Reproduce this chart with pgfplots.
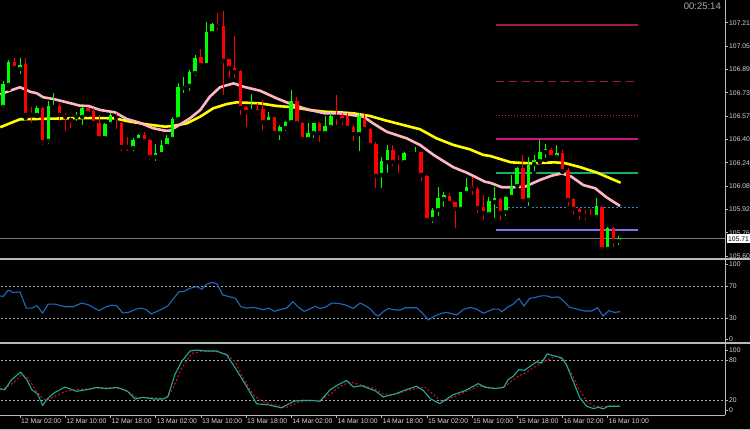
\documentclass[border=0pt]{standalone}
\usepackage{fontspec}
\setmainfont{Liberation Sans}
\usepackage{pgfplots}
\usepackage{pgfplotstable}
\pgfplotsset{compat=1.18}

\definecolor{bull}{RGB}{0,255,0}
\definecolor{bear}{RGB}{255,0,0}
\definecolor{maslow}{RGB}{255,255,0}
\definecolor{mafast}{RGB}{255,182,193}
\definecolor{rsiblue}{RGB}{30,105,190}
\definecolor{stochk}{RGB}{32,170,160}
\definecolor{stochd}{RGB}{200,20,20}
\definecolor{frame}{RGB}{185,185,185}
\definecolor{lbl}{RGB}{215,215,215}
\definecolor{lvl}{RGB}{170,170,170}
\definecolor{bid}{RGB}{120,120,120}
\definecolor{fibA}{RGB}{160,25,65}
\definecolor{fibB}{RGB}{200,40,50}
\definecolor{fibC}{RGB}{205,20,130}
\definecolor{fibD}{RGB}{20,175,100}
\definecolor{fibE}{RGB}{60,125,215}
\definecolor{fibF}{RGB}{130,110,240}

% candles: hour index i (0 = 12 Mar 02:00), open high low close
\pgfplotstableread{
i o h l c
-3 106.629 106.808 106.622 106.787
-2 106.781 106.953 106.753 106.939
0 106.891 106.967 106.843 106.918
3 106.574 106.636 106.567 106.622
5 106.394 106.670 106.360 106.636
6 106.629 106.725 106.608 106.636
10 106.560 106.594 106.518 106.574
11 106.560 106.629 106.491 106.622
15 106.415 106.518 106.412 106.511
16 106.511 106.587 106.498 106.574
20 106.346 106.415 106.311 106.401
21 106.401 106.442 106.394 106.436
24 106.284 106.373 106.242 106.311
25 106.304 106.401 106.298 106.367
26 106.360 106.436 106.353 106.415
27 106.408 106.560 106.401 106.546
28 106.546 106.794 106.539 106.767
29 106.760 106.836 106.712 106.774
30 106.774 106.884 106.725 106.870
31 106.863 106.988 106.829 106.967
33 106.918 107.215 106.912 107.146
34 107.139 107.208 107.135 107.201
41 106.601 106.718 106.574 106.615
44 106.525 106.594 106.518 106.560
46 106.449 106.505 106.387 106.491
47 106.484 106.532 106.449 106.525
48 106.525 106.746 106.518 106.670
51 106.408 106.518 106.380 106.449
52 106.449 106.521 106.401 106.518
54 106.449 106.567 106.446 106.498
55 106.491 106.587 106.470 106.567
60 106.442 106.587 106.311 106.567
64 106.160 106.284 106.056 106.256
65 106.249 106.367 106.160 106.332
68 106.249 106.318 106.242 106.311
70 106.304 106.353 106.298 106.318
73 105.856 105.932 105.815 105.918
74 105.918 106.077 105.863 106.001
75 105.994 106.042 105.925 106.022
78 105.925 106.045 105.918 106.042
79 106.035 106.139 106.032 106.077
83 105.890 106.008 105.863 105.980
84 105.973 106.077 105.849 106.001
86 105.904 106.015 105.863 106.008
87 106.008 106.160 106.001 106.084
88 106.084 106.215 106.056 106.208
90 105.987 106.284 105.932 106.229
91 106.235 106.298 106.173 106.263
92 106.256 106.401 106.249 106.318
93 106.318 106.373 106.263 106.339
95 106.284 106.367 106.270 106.311
102 105.870 106.001 105.863 105.946
104 105.649 105.801 105.642 105.794
106 105.704 105.739 105.663 105.725
}\bulltab

\pgfplotstableread{
i o h l c
-1 106.939 106.967 106.870 106.898
1 106.925 106.967 106.553 106.574
2 106.580 106.629 106.505 106.574
4 106.622 106.629 106.353 106.387
7 106.636 106.656 106.518 106.574
8 106.574 106.587 106.449 106.560
9 106.553 106.560 106.470 106.539
12 106.622 106.629 106.574 106.587
13 106.601 106.622 106.484 106.518
14 106.518 106.574 106.412 106.415
17 106.567 106.587 106.463 106.553
18 106.518 106.525 106.311 106.353
19 106.360 106.422 106.311 106.353
22 106.436 106.456 106.387 106.394
23 106.401 106.405 106.249 106.284
32 106.974 107.029 106.884 106.918
35 107.201 107.277 107.146 107.188
36 107.188 107.291 106.698 106.946
37 106.960 106.963 106.815 106.898
38 106.898 107.119 106.815 106.870
39 106.877 106.884 106.560 106.622
40 106.629 106.636 106.477 106.594
42 106.615 106.656 106.560 106.594
43 106.615 106.677 106.456 106.525
45 106.560 106.563 106.446 106.449
49 106.670 106.698 106.491 106.518
50 106.518 106.525 106.401 106.408
53 106.518 106.525 106.373 106.449
56 106.574 106.712 106.491 106.560
57 106.567 106.587 106.491 106.539
58 106.567 106.587 106.481 106.484
59 106.491 106.505 106.380 106.442
61 106.546 106.587 106.470 106.477
62 106.477 106.484 106.346 106.367
63 106.373 106.387 106.056 106.153
66 106.332 106.367 106.208 106.249
67 106.263 106.298 106.160 106.249
69 106.325 106.328 106.284 106.311
71 106.318 106.321 106.104 106.160
72 106.153 106.160 105.846 105.849
76 106.015 106.035 105.959 105.966
77 105.973 105.976 105.780 105.925
80 106.077 106.146 106.008 106.063
81 106.063 106.077 105.884 105.932
82 105.939 106.022 105.835 105.897
85 105.994 106.001 105.835 105.897
89 106.208 106.298 105.973 105.980
94 106.332 106.346 106.277 106.284
96 106.311 106.332 106.180 106.187
97 106.194 106.208 105.932 105.987
98 105.994 106.001 105.870 105.925
99 105.925 105.932 105.835 105.890
100 105.890 105.918 105.835 105.877
101 105.884 105.925 105.863 105.870
103 105.939 105.946 105.628 105.649
105 105.794 105.801 105.649 105.704
}\beartab

\pgfplotstableread{
i v
-3.5 106.489
-1.8 106.516
0 106.544
5.3 106.548
11.2 106.553
16.8 106.551
18.9 106.532
22.4 106.509
25.7 106.493
27.1 106.498
29.5 106.516
31.9 106.562
34.2 106.620
36.6 106.649
38.3 106.661
42.5 106.654
45.4 106.636
48.4 106.627
51.3 106.608
54 106.596
56.6 106.592
59 106.585
61.9 106.567
64.9 106.534
67.8 106.505
70.8 106.475
73.7 106.413
76.7 106.367
79.6 106.337
82 106.298
83.2 106.291
86.9 106.247
90.4 106.240
94.6 106.247
96.4 106.242
99.2 106.213
102.2 106.175
106.3 106.106
}\maslowtab

\pgfplotstableread{
i v
-3.5 106.716
-1.8 106.741
0 106.765
1.8 106.734
3 106.723
4.1 106.696
5.9 106.684
8.3 106.661
10.6 106.638
12.1 106.636
14.2 106.608
16.8 106.592
18.9 106.546
21.2 106.520
23.6 106.482
25.7 106.465
26.5 106.465
27.7 106.493
30.1 106.551
31.9 106.608
33.6 106.700
35.4 106.765
37.8 106.792
39.5 106.769
42.5 106.741
45.4 106.689
48.4 106.642
51.3 106.608
54 106.585
56.6 106.585
60.8 106.562
62.5 106.516
64.9 106.458
68.4 106.413
70.8 106.367
73.2 106.298
76.7 106.213
79.1 106.175
82.3 106.113
83.2 106.106
85.3 106.075
87.3 106.075
89.4 106.079
92 106.125
94.1 106.155
95.9 106.171
97.6 106.148
99.7 106.090
101.8 106.068
103.8 106.006
106.2 105.946
}\mafasttab

\pgfplotstableread{
i v
-3.5 57.7
-3.0 56.9
-2.1 64.7
-1.2 61.8
0 62.6
1.1 42.6
2.1 42.6
3.0 45.5
4.0 36.5
5.0 47.5
6.2 47.5
8.0 44.3
9.4 44.3
10.9 48.8
12.1 46.7
14.0 39.4
15.3 44.3
16.2 46.3
17.1 45.5
18.2 36.5
19.2 37.3
20.6 41.4
21.5 42.6
22.4 40.6
23.2 35.3
24.8 40.2
26.2 45.5
27.1 53.7
28.1 62.6
29.1 63.5
30.1 67.1
31.3 69.2
32.2 65.9
33.0 72.0
33.9 74.1
34.8 73.2
35.9 59.0
36.9 56.9
38.1 54.9
39.1 44.3
40.1 42.6
41.3 43.5
42.2 42.2
43.1 40.6
44.0 42.6
45.0 38.6
46.0 40.6
47.2 42.6
48.3 50.4
49.3 43.5
50.3 38.6
51.3 41.4
52.2 44.7
53.1 42.2
54.0 43.5
55.2 48.8
56.3 48.4
57.5 46.7
59.0 42.2
60.2 48.8
61.4 44.7
62.2 40.2
62.8 35.0
63.4 32.8
64.3 38.1
65.2 42.2
66.4 40.2
67.3 40.2
68.1 43.0
70.2 43.0
71.1 37.3
72.3 27.9
73.4 32.8
74.6 36.1
75.5 37.3
77.3 34.1
78.5 41.0
79.7 43.4
80.8 41.4
82.0 36.1
83.8 41.4
84.7 41.4
85.3 38.1
86.4 44.3
87.3 47.5
88.3 54.5
89.2 45.1
90.2 54.5
91.1 55.7
92.3 57.7
93.2 57.7
94.1 55.7
95.3 56.5
96.2 51.6
97.3 43.4
98.2 42.2
99.1 40.2
100.0 39.0
101.2 39.0
102.2 43.0
103.2 32.8
104.2 39.4
105.2 37.3
106.2 38.1
}\rsitab

\pgfplotstableread{
i v
-3.5 37.2
-2.7 35.7
-1.5 50.5
0.1 61.8
1.2 50.5
2.1 35.7
3.1 29.3
4.0 12.6
5.0 23.4
6.2 31.8
8.0 39.7
10.0 33.3
11.8 35.7
13.6 39.2
15.3 37.2
17.1 39.2
18.9 34.2
20.4 21.9
21.8 24.4
23.6 21.9
25.4 21.9
26.2 25.9
27.4 57.9
28.6 77.5
30.1 93.3
31.3 94.7
33.0 93.3
34.8 93.3
36.6 87.4
38.3 65.2
40.1 40.6
41.9 14.6
43.7 13.6
46.3 8.7
48.4 18.5
50.2 20.0
51.9 19.5
53.1 18.5
54.9 35.7
56.3 43.1
57.8 49.5
59.0 39.7
60.5 41.6
62.0 36.7
62.8 34.5
64.3 25.0
66.4 29.4
68.4 35.9
70.2 40.8
71.4 34.4
72.6 22.5
74.3 15.0
76.7 28.4
78.8 34.4
81.1 44.8
82.3 39.3
84.1 37.4
85.6 39.3
86.4 50.7
87.3 55.7
88.3 65.6
89.3 64.6
90.3 70.6
91.4 77.0
92.3 75.5
93.3 88.9
94.4 86.4
95.9 83.0
96.7 73.1
97.9 48.3
99.1 23.5
100.3 11.1
101.5 7.6
102.4 9.6
103.2 7.1
104.1 11.1
105.0 11.1
106.2 11.1
}\stochktab

\pgfplotstableread{
i v
-3.5 35.7
-2.4 39.2
-1.2 45.6
0.3 57.9
1.5 52.9
2.7 35.7
3.8 24.4
4.7 20.0
6.2 25.9
8.0 33.3
10.0 35.7
12.4 37.2
14.2 38.2
15.9 38.2
17.7 37.2
19.2 32.3
20.6 24.4
22.4 24.4
24.2 23.4
25.9 22.4
27.1 38.2
28.6 67.7
30.4 89.8
31.9 92.3
34.8 92.3
36.6 88.3
38.1 77.5
39.5 52.9
41.3 28.3
42.8 18.5
44.8 13.6
47.2 9.6
49.0 16.0
51.0 19.5
53.1 20.0
55.2 30.8
56.6 40.6
58.4 47.0
60.2 43.1
62.0 39.2
62.8 36.5
64.3 29.4
66.4 28.4
68.4 34.4
70.2 37.4
71.7 39.3
73.2 28.4
74.6 18.5
76.7 24.5
78.8 32.4
81.1 40.8
82.3 40.8
84.1 37.4
85.6 39.3
87.0 48.3
88.2 55.7
89.7 62.1
91.1 69.6
92.3 75.5
93.5 80.5
94.9 85.4
96.1 80.5
97.6 60.7
98.8 38.3
100.3 18.5
101.7 11.1
103.4 10.1
105.1 11.1
106.2 11.1
}\stochdtab

\pgfplotsset{
  mt/.style={
    scale only axis, width=725pt, anchor=north west,
    xmin=-3.54, xmax=124.78,
    axis line style={draw=none},
    xtick=\empty,
    ytick pos=right, yticklabel pos=right,
    tick align=outside, major tick length=3pt,
    tick style={frame, line width=0.6pt},
    ticklabel style={font=\fontsize{6.8}{7.5}\selectfont, text=lbl},
    yticklabel style={anchor=west, inner sep=0pt, xshift=1pt},
    clip=true,
  },
  wick/.style={only marks, mark=none, error bars/.cd, y dir=plus, y explicit,
    error mark=none, error bar style={line width=1pt, draw=#1}},
  body/.style={only marks, mark=none, error bars/.cd, y dir=plus, y explicit,
    error mark=none, error bar style={line width=3.5pt, draw=#1}},
}

\begin{document}
\begin{tikzpicture}
\useasboundingbox (0pt,0pt) rectangle (750pt,-430pt);
\clip (0pt,0pt) rectangle (750pt,-430pt);
\fill[black] (0pt,0pt) rectangle (750pt,-430pt);

% price window
\begin{axis}[mt, at={(0pt,0pt)}, height=258pt,
  ymin=105.587, ymax=107.367,
  ytick={105.600,105.761,105.922,106.083,106.244,106.405,106.566,106.727,106.888,107.049,107.210},
  yticklabels={105.60,105.76,105.92,106.08,106.24,106.40,106.57,106.73,106.89,107.05,107.21},
  extra y ticks={105.72}, extra y tick labels={105.71},
  extra y tick style={major tick length=0pt,
    yticklabel style={fill=white, text=black, inner xsep=1.5pt, inner ysep=2pt, xshift=0.5pt}},
]
\addplot[bid, line width=1pt] coordinates {(-4,105.72) (126,105.72)};
% fibonacci levels
\addplot[fibA, line width=1.4pt] coordinates {(84.2,107.194) (109.4,107.194)};
\addplot[fibA, line width=1.5pt, dash pattern=on 8pt off 5pt] coordinates {(84.2,106.803) (109.4,106.803)};
\addplot[fibB, line width=1.3pt, dash pattern=on 1.5pt off 1.5pt] coordinates {(84.2,106.569) (109.4,106.569)};
\addplot[fibC, line width=2pt] coordinates {(84.2,106.406) (109.4,106.406)};
\addplot[fibD, line width=1.3pt] coordinates {(84.2,106.173) (109.4,106.173)};
\addplot[fibE, line width=1.3pt, dash pattern=on 2pt off 2pt] coordinates {(84.2,105.937) (109.4,105.937)};
\addplot[fibF, line width=2pt] coordinates {(84.2,105.780) (109.4,105.780)};
% moving averages
\addplot[maslow, line width=2.6pt, line join=round] table[x=i, y=v] {\maslowtab};
\addplot[mafast, line width=2.6pt, line join=round] table[x=i, y=v] {\mafasttab};
% candles
\addplot[wick=bull] table[x=i, y=l, y error plus expr={\thisrow{h}-\thisrow{l}}] {\bulltab};
\addplot[body=bull] table[x=i, y=o, y error plus expr={\thisrow{c}-\thisrow{o}}] {\bulltab};
\addplot[wick=bear] table[x=i, y=l, y error plus expr={\thisrow{h}-\thisrow{l}}] {\beartab};
\addplot[body=bear] table[x=i, y=c, y error plus expr={\thisrow{o}-\thisrow{c}}] {\beartab};
\end{axis}

% RSI window
\begin{axis}[mt, at={(0pt,-260pt)}, height=83pt,
  ymin=-0.6, ymax=102.1,
  ytick={4.5,30,70,96.8}, yticklabels={0,30,70,100},
]
\addplot[lvl, line width=0.8pt, dash pattern=on 2pt off 2pt] coordinates {(-4,70) (126,70)};
\addplot[lvl, line width=0.8pt, dash pattern=on 2pt off 2pt] coordinates {(-4,30) (126,30)};
\addplot[rsiblue, line width=1.1pt] table[x=i, y=v] {\rsitab};
\end{axis}

% Stochastic window
\begin{axis}[mt, at={(0pt,-345pt)}, height=70pt,
  ymin=-1.9, ymax=102.2,
  ytick={5.5,20,80,93.8}, yticklabels={0,20,80,100},
  xtick={-8,0,8,...,104}, xtick pos=bottom,
  xticklabels={11 Mar 18:00,12 Mar 02:00,12 Mar 10:00,12 Mar 18:00,13 Mar 02:00,13 Mar 10:00,13 Mar 18:00,14 Mar 02:00,14 Mar 10:00,14 Mar 18:00,15 Mar 02:00,15 Mar 10:00,15 Mar 18:00,16 Mar 02:00,16 Mar 10:00},
  xticklabel style={anchor=north west, inner sep=0pt, xshift=1pt, yshift=-0.5pt},
]
\addplot[lvl, line width=0.8pt, dash pattern=on 2pt off 2pt] coordinates {(-4,80) (126,80)};
\addplot[lvl, line width=0.8pt, dash pattern=on 2pt off 2pt] coordinates {(-4,20) (126,20)};
\addplot[stochd, line width=1.1pt, dash pattern=on 2pt off 2pt] table[x=i, y=v] {\stochdtab};
\addplot[stochk, line width=1.1pt] table[x=i, y=v] {\stochktab};
\end{axis}

% window frame
\draw[frame, line width=0.8pt] (725pt,0pt) -- (725pt,-415pt);
\draw[frame, line width=2pt] (0pt,-259pt) -- (750pt,-259pt);
\draw[frame, line width=2pt] (0pt,-343.5pt) -- (750pt,-343.5pt);
\draw[frame, line width=0.8pt] (0pt,-415pt) -- (725pt,-415pt);
\draw[frame, line width=1pt] (0pt,-429pt) -- (750pt,-429pt);
\node[anchor=east, text=lbl!80!black, font=\fontsize{9.5}{10}\selectfont, inner sep=0pt] at (721pt,-6.5pt) {00:25:14};
\end{tikzpicture}
\end{document}
